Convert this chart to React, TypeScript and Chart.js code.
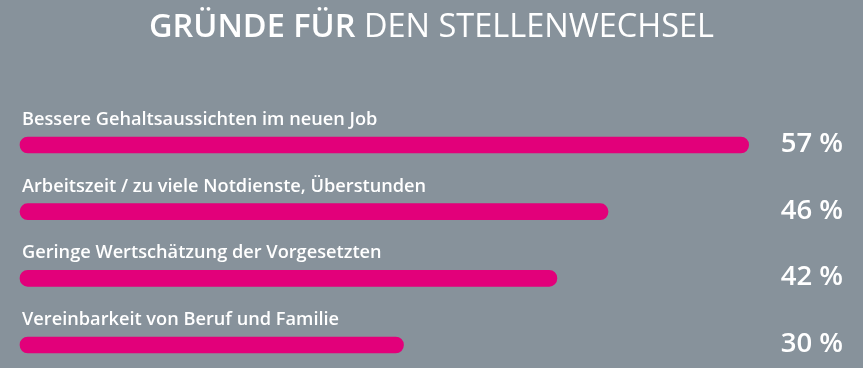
import React, { useEffect, useRef } from 'react';
import { Chart, registerables } from 'chart.js';

Chart.register(...registerables);

const categories = [
  'Bessere Gehaltsaussichten im neuen Job',
  'Arbeitszeit / zu viele Notdienste, Überstunden',
  'Geringe Wertschätzung der Vorgesetzten',
  'Vereinbarkeit von Beruf und Familie',
];
const values = [57, 46, 42, 30];
const valueLabels = ['57 %', '46 %', '42 %', '30 %'];
const titleBold = 'GRÜNDE FÜR';
const titleRegular = 'DEN STELLENWECHSEL';

const BG = '#87929b';
const BAR = '#e2007a';
const FONT = '"Open Sans", "Noto Sans", sans-serif';

export default function App() {
  const ref = useRef<HTMLCanvasElement>(null);

  useEffect(() => {
    document.body.style.margin = '0';
    document.body.style.background = BG;
    const canvas = ref.current;
    if (!canvas) return;

    const bgPlugin = {
      id: 'bg',
      beforeDraw(chart: any) {
        const ctx = chart.ctx;
        ctx.save();
        ctx.fillStyle = BG;
        ctx.fillRect(0, 0, chart.width, chart.height);
        ctx.restore();
      },
    };

    const textPlugin = {
      id: 'texts',
      afterDatasetsDraw(chart: any) {
        const ctx = chart.ctx;
        const meta = chart.getDatasetMeta(0);
        ctx.save();
        ctx.fillStyle = '#ffffff';
        ctx.textBaseline = 'alphabetic';
        meta.data.forEach((bar: any, i: number) => {
          const y = bar.y;
          ctx.font = `600 18.2px ${FONT}`;
          ctx.textAlign = 'left';
          ctx.fillText(categories[i], 22, y - 20);
          ctx.font = `600 27.5px ${FONT}`;
          ctx.textAlign = 'right';
          ctx.fillText(valueLabels[i], 843, y + 7);
        });
        // title
        ctx.textAlign = 'left';
        const boldFont = `600 32.5px ${FONT}`;
        const regFont = `400 32.5px ${FONT}`;
        ctx.font = boldFont;
        const wb = ctx.measureText(titleBold + ' ').width;
        ctx.font = regFont;
        const wr = ctx.measureText(titleRegular).width;
        const x0 = chart.width / 2 - (wb + wr) / 2;
        ctx.font = boldFont;
        ctx.fillText(titleBold + ' ', x0, 37);
        ctx.font = regFont;
        ctx.fillText(titleRegular, x0 + wb, 37);
        ctx.restore();
      },
    };

    const chart = new Chart(canvas, {
      type: 'bar',
      data: {
        labels: categories,
        datasets: [
          {
            data: values,
            backgroundColor: BAR,
            borderRadius: 8,
            borderSkipped: false,
            barThickness: 16,
            clip: false,
          } as any,
        ],
      },
      options: {
        indexAxis: 'y',
        responsive: false,
        animation: false,
        layout: { padding: { left: 20, right: 76, top: 145, bottom: 23 } },
        scales: {
          x: { display: false, min: 0, max: 60 },
          y: { display: false, offset: false },
        },
        plugins: {
          legend: { display: false },
          tooltip: { enabled: false },
          title: { display: false },
        },
      },
      plugins: [bgPlugin, textPlugin],
    });
    return () => chart.destroy();
  }, []);

  return <canvas ref={ref} width={863} height={368} style={{ display: 'block' }} />;
}
